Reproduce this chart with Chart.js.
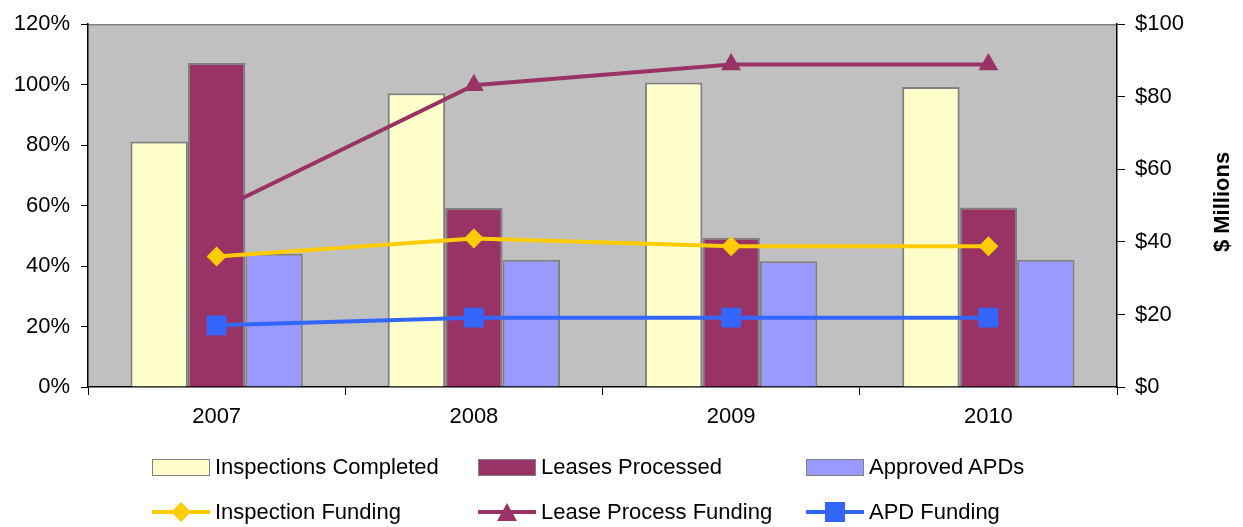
<!DOCTYPE html>
<html lang="en">
<head>
    <meta charset="UTF-8">
    <title>Inspections, Leases and APDs vs Funding</title>
    <script src="https://cdn.jsdelivr.net/npm/chart.js"></script>
    <style>
        body { margin: 0; background: #fff; font-family: "Liberation Sans", Arial, sans-serif; }
        #wrap { position: relative; width: 1243px; height: 527px; overflow: hidden; }
        .lg { position: absolute; font-size: 22px; color: #000; line-height: 26px; white-space: nowrap; }
        .sw { position: absolute; box-sizing: border-box; border: 1px solid #808080; }
        .ln { position: absolute; height: 4px; }
        .mk { position: absolute; }
    </style>
</head>
<body>
    <div id="wrap">
        <canvas id="chart" width="1243" height="527"></canvas>
        <div id="legend"></div>
    </div>

    <script>
        // chart data
        const years = ['2007', '2008', '2009', '2010'];
        const inspectionsCompleted = [81.2, 97.2, 100.7, 99.2];   // %
        const leasesProcessed = [107.2, 59.2, 49.4, 59.4];        // %
        const approvedAPDs = [44.1, 42.1, 41.6, 42.1];            // %
        const inspectionFunding = [36.0, 40.9, 38.8, 38.8];       // $ millions
        const leaseProcessFunding = [48.6, 83.2, 88.9, 88.9];     // $ millions
        const apdFunding = [17.0, 19.1, 19.1, 19.1];              // $ millions
        const pctTicks = [0, 20, 40, 60, 80, 100, 120];
        const dollarTicks = [0, 20, 40, 60, 80, 100];

        const yellow = '#FFCC00', maroon = '#993366', blue = '#3366FF';
        const font = { family: '"Liberation Sans", Arial, sans-serif', size: 22 };

        // grey plot background, thin grey top border, rotated right-axis title
        const plotDecor = {
            id: 'plotDecor',
            beforeDraw(chart) {
                const { ctx, chartArea: a } = chart;
                ctx.save();
                ctx.fillStyle = '#C0C0C0';
                ctx.fillRect(a.left, a.top, a.right - a.left, a.bottom - a.top);
                ctx.strokeStyle = '#808080';
                ctx.lineWidth = 1.5;
                ctx.beginPath();
                ctx.moveTo(a.left, a.top + 0.5);
                ctx.lineTo(a.right, a.top + 0.5);
                ctx.stroke();
                ctx.restore();
            },
            afterDraw(chart) {
                const ctx = chart.ctx;
                ctx.save();
                ctx.translate(1223, 202);
                ctx.rotate(-Math.PI / 2);
                ctx.font = 'bold 22px "Liberation Sans", Arial, sans-serif';
                ctx.fillStyle = '#000';
                ctx.textAlign = 'center';
                ctx.textBaseline = 'middle';
                ctx.fillText('$ Millions', 0, 0);
                ctx.restore();
            }
        };

        const ctx = document.getElementById('chart').getContext('2d');
        const chart = new Chart(ctx, {
            type: 'bar',
            data: {
                labels: years,
                datasets: [
                    {
                        type: 'line', label: 'Inspection Funding', data: inspectionFunding, yAxisID: 'y1', order: 0,
                        borderColor: yellow, backgroundColor: yellow, borderWidth: 4,
                        pointStyle: 'rectRot', pointRadius: 10, pointBackgroundColor: yellow, pointBorderWidth: 0
                    },
                    {
                        type: 'line', label: 'Lease Process Funding', data: leaseProcessFunding, yAxisID: 'y1', order: 0,
                        borderColor: maroon, backgroundColor: maroon, borderWidth: 4,
                        pointStyle: 'triangle', pointRadius: 11.5, pointBackgroundColor: maroon, pointBorderWidth: 0
                    },
                    {
                        type: 'line', label: 'APD Funding', data: apdFunding, yAxisID: 'y1', order: 0,
                        borderColor: blue, backgroundColor: blue, borderWidth: 4,
                        pointStyle: 'rect', pointRadius: 14, pointBackgroundColor: blue, pointBorderWidth: 0
                    },
                    {
                        label: 'Inspections Completed', data: inspectionsCompleted, yAxisID: 'y', order: 1,
                        backgroundColor: '#FFFFCC', borderColor: '#808080', borderWidth: 2
                    },
                    {
                        label: 'Leases Processed', data: leasesProcessed, yAxisID: 'y', order: 1,
                        backgroundColor: maroon, borderColor: '#808080', borderWidth: 2
                    },
                    {
                        label: 'Approved APDs', data: approvedAPDs, yAxisID: 'y', order: 1,
                        backgroundColor: '#9999FF', borderColor: '#808080', borderWidth: 2
                    }
                ]
            },
            options: {
                responsive: false,
                animation: false,
                datasets: { bar: { categoryPercentage: 0.67, barPercentage: 1.0 }, line: { tension: 0 } },
                layout: { padding: { top: 23, left: 0, right: 0, bottom: 0 } },
                plugins: { legend: { display: false }, tooltip: { enabled: false } },
                scales: {
                    x: {
                        offset: true,
                        grid: { offset: true, drawOnChartArea: false, tickLength: 8, color: '#000' },
                        border: { color: '#000', width: 1.5 },
                        ticks: { font: font, color: '#000', padding: 9 },
                        afterFit(scale) { scale.height = 140; }
                    },
                    y: {
                        position: 'left', min: 0, max: 120,
                        afterBuildTicks(scale) { scale.ticks = pctTicks.map(v => ({ value: v })); },
                        grid: { drawOnChartArea: false, tickLength: 7, color: '#000' },
                        border: { color: '#000', width: 1.5 },
                        ticks: { font: font, color: '#000', padding: 11, callback: v => v + '%' },
                        afterFit(scale) { scale.width = 88; }
                    },
                    y1: {
                        position: 'right', min: 0, max: 100,
                        afterBuildTicks(scale) { scale.ticks = dollarTicks.map(v => ({ value: v })); },
                        grid: { drawOnChartArea: false, tickLength: 8, color: '#000' },
                        border: { color: '#000', width: 1.5 },
                        ticks: { font: font, color: '#000', padding: 10, callback: v => '$' + v },
                        afterFit(scale) { scale.width = 126; }
                    }
                }
            },
            plugins: [plotDecor]
        });

        // legend laid out like the original: two rows of three columns
        const legend = document.getElementById('legend');
        const cols = [152, 478, 806];
        const barItems = [
            ['Inspections Completed', '#FFFFCC'],
            ['Leases Processed', maroon],
            ['Approved APDs', '#9999FF']
        ];
        const lineItems = [
            ['Inspection Funding', yellow, 'diamond'],
            ['Lease Process Funding', maroon, 'triangle'],
            ['APD Funding', blue, 'square']
        ];
        function addText(txt, x, cy) {
            const t = document.createElement('div');
            t.className = 'lg';
            t.textContent = txt;
            t.style.left = x + 'px';
            t.style.top = (cy - 13) + 'px';
            legend.appendChild(t);
        }
        barItems.forEach((it, i) => {
            const s = document.createElement('div');
            s.className = 'sw';
            s.style.left = cols[i] + 'px';
            s.style.top = '459px';
            s.style.width = '58px';
            s.style.height = '17px';
            s.style.background = it[1];
            legend.appendChild(s);
            addText(it[0], cols[i] + 63, 467);
        });
        lineItems.forEach((it, i) => {
            const cy = 512, cx = cols[i] + 29;
            const l = document.createElement('div');
            l.className = 'ln';
            l.style.left = cols[i] + 'px';
            l.style.top = (cy - 2) + 'px';
            l.style.width = '58px';
            l.style.background = it[1];
            legend.appendChild(l);
            const m = document.createElement('div');
            m.className = 'mk';
            if (it[2] === 'diamond') {
                m.style.left = (cx - 7) + 'px'; m.style.top = (cy - 7) + 'px';
                m.style.width = '14px'; m.style.height = '14px';
                m.style.background = it[1]; m.style.transform = 'rotate(45deg)';
            } else if (it[2] === 'triangle') {
                m.style.left = (cx - 10) + 'px'; m.style.top = (cy - 9) + 'px';
                m.style.width = '0'; m.style.height = '0';
                m.style.borderLeft = '10px solid transparent';
                m.style.borderRight = '10px solid transparent';
                m.style.borderBottom = '18px solid ' + it[1];
            } else {
                m.style.left = (cx - 10) + 'px'; m.style.top = (cy - 10) + 'px';
                m.style.width = '20px'; m.style.height = '20px';
                m.style.background = it[1];
            }
            legend.appendChild(m);
            addText(it[0], cols[i] + 63, cy);
        });
    </script>
</body>
</html>
